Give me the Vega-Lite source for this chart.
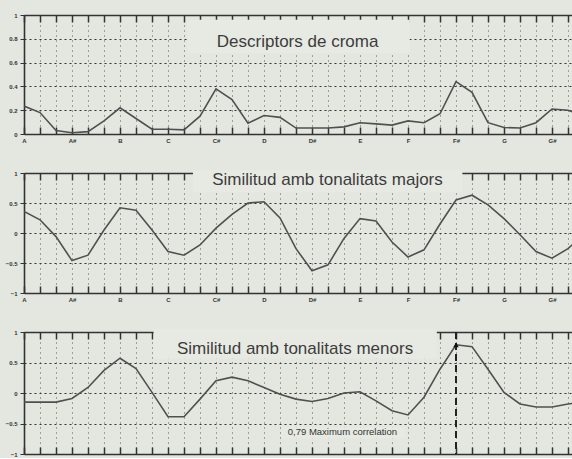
{
  "$schema": "https://vega.github.io/schema/vega-lite/v6.json",
  "background": "#e4e7e0",
  "padding": {"top": 12, "left": 0, "right": 0, "bottom": 0},
  "spacing": 16,
  "config": {
    "view": {"stroke": null},
    "font": "Liberation Sans",
    "axis": {"zindex": 0, "domainColor": "#333", "domainWidth": 1.6, "tickColor": "#333", "labelColor": "#333", "labelFont": "Liberation Sans", "labelFontSize": 6, "labelFontWeight": "bold"}
  },
  "datasets": {
    "one": [{}],
    "croma": [
      {"i":0,"v":0.235},{"i":1,"v":0.18},{"i":2,"v":0.03},{"i":3,"v":0.01},{"i":4,"v":0.02},{"i":5,"v":0.11},
      {"i":6,"v":0.22},{"i":7,"v":0.13},{"i":8,"v":0.04},{"i":9,"v":0.04},{"i":10,"v":0.035},{"i":11,"v":0.15},
      {"i":12,"v":0.38},{"i":13,"v":0.29},{"i":14,"v":0.09},{"i":15,"v":0.155},{"i":16,"v":0.14},{"i":17,"v":0.05},
      {"i":18,"v":0.05},{"i":19,"v":0.05},{"i":20,"v":0.06},{"i":21,"v":0.095},{"i":22,"v":0.085},{"i":23,"v":0.075},
      {"i":24,"v":0.11},{"i":25,"v":0.095},{"i":26,"v":0.17},{"i":27,"v":0.44},{"i":28,"v":0.35},{"i":29,"v":0.095},
      {"i":30,"v":0.055},{"i":31,"v":0.05},{"i":32,"v":0.095},{"i":33,"v":0.21},{"i":34,"v":0.2},{"i":35,"v":0.15}
    ],
    "majors": [
      {"i":0,"v":0.36},{"i":1,"v":0.22},{"i":2,"v":-0.06},{"i":3,"v":-0.46},{"i":4,"v":-0.37},{"i":5,"v":0.05},
      {"i":6,"v":0.42},{"i":7,"v":0.38},{"i":8,"v":0.05},{"i":9,"v":-0.31},{"i":10,"v":-0.37},{"i":11,"v":-0.2},
      {"i":12,"v":0.08},{"i":13,"v":0.31},{"i":14,"v":0.5},{"i":15,"v":0.52},{"i":16,"v":0.25},{"i":17,"v":-0.26},
      {"i":18,"v":-0.63},{"i":19,"v":-0.53},{"i":20,"v":-0.09},{"i":21,"v":0.24},{"i":22,"v":0.2},{"i":23,"v":-0.15},
      {"i":24,"v":-0.4},{"i":25,"v":-0.28},{"i":26,"v":0.15},{"i":27,"v":0.55},{"i":28,"v":0.63},{"i":29,"v":0.47},
      {"i":30,"v":0.24},{"i":31,"v":-0.03},{"i":32,"v":-0.31},{"i":33,"v":-0.42},{"i":34,"v":-0.26},{"i":35,"v":-0.02}
    ],
    "menors": [
      {"i":0,"v":-0.15},{"i":1,"v":-0.15},{"i":2,"v":-0.15},{"i":3,"v":-0.09},{"i":4,"v":0.09},{"i":5,"v":0.37},
      {"i":6,"v":0.57},{"i":7,"v":0.4},{"i":8,"v":0.01},{"i":9,"v":-0.39},{"i":10,"v":-0.39},{"i":11,"v":-0.1},
      {"i":12,"v":0.2},{"i":13,"v":0.26},{"i":14,"v":0.2},{"i":15,"v":0.09},{"i":16,"v":-0.02},{"i":17,"v":-0.1},
      {"i":18,"v":-0.14},{"i":19,"v":-0.09},{"i":20,"v":0.0},{"i":21,"v":0.02},{"i":22,"v":-0.13},{"i":23,"v":-0.29},
      {"i":24,"v":-0.36},{"i":25,"v":-0.07},{"i":26,"v":0.39},{"i":27,"v":0.79},{"i":28,"v":0.76},{"i":29,"v":0.39},
      {"i":30,"v":0.01},{"i":31,"v":-0.18},{"i":32,"v":-0.23},{"i":33,"v":-0.23},{"i":34,"v":-0.18},{"i":35,"v":-0.15}
    ]
  },
  "vconcat": [
    {
      "width": 548, "height": 119,
      "resolve": {"axis": {"x": "independent", "y": "independent"}},
      "layer": [
        {
          "data": {"name": "one"},
          "mark": {"type": "rect", "fill": "#e7e9e3"},
          "encoding": {
            "x": {"datum": 10.2, "type": "quantitative", "scale": {"domain": [0, 34.25], "nice": false, "zero": false},
              "axis": {"orient": "top", "title": null, "values": [0,1,2,3,4,5,6,7,8,9,10,11,12,13,14,15,16,17,18,19,20,21,22,23,24,25,26,27,28,29,30,31,32,33,34], "labels": false, "tickSize": -7, "tickWidth": 1.5, "grid": false, "minExtent": 0, "maxExtent": 0}},
            "x2": {"datum": 24.1},
            "y": {"datum": 0.96, "type": "quantitative", "scale": {"domain": [0, 1], "nice": false, "zero": false},
              "axis": {"orient": "left", "title": null, "values": [0, 0.2, 0.4, 0.6, 0.8, 1], "format": "~g", "tickSize": 4, "labelPadding": 3, "grid": true, "gridColor": "#333", "gridDash": [2, 3], "gridWidth": 1.1, "minExtent": 24, "maxExtent": 24}},
            "y2": {"datum": 0.68}
          }
        },
        {
          "data": {"name": "croma"},
          "mark": {"type": "line", "color": "#505050", "strokeWidth": 1.6, "clip": true},
          "encoding": {
            "x": {"field": "i", "type": "quantitative", "scale": {"domain": [0, 34.25], "nice": false, "zero": false},
              "axis": {"orient": "bottom", "title": null, "values": [0,1,2,3,4,5,6,7,8,9,10,11,12,13,14,15,16,17,18,19,20,21,22,23,24,25,26,27,28,29,30,31,32,33,34], "labelExpr": "datum.value % 3 == 0 ? ['A','A#','B','C','C#','D','D#','E','F','F#','G','G#'][datum.value / 3] : ''", "labelFlush": false, "labelOverlap": false, "labelBound": false, "tickSize": -7, "tickWidth": 1.5, "labelPadding": 10, "grid": true, "gridColor": "#555", "gridDash": [1, 4], "gridWidth": 1, "minExtent": 20, "maxExtent": 20}},
            "y": {"field": "v", "type": "quantitative", "scale": {"domain": [0, 1], "nice": false, "zero": false}, "axis": null}
          }
        },
        {
          "data": {"name": "one"},
          "mark": {"type": "text", "fontSize": 17, "color": "#3c3c3c", "baseline": "alphabetic", "align": "center"},
          "encoding": {
            "x": {"datum": 17.1, "type": "quantitative", "scale": {"domain": [0, 34.25], "nice": false, "zero": false}, "axis": null},
            "y": {"datum": 0.73, "type": "quantitative", "scale": {"domain": [0, 1], "nice": false, "zero": false}, "axis": null},
            "text": {"value": "Descriptors de croma"}
          }
        }
      ]
    },
    {
      "width": 548, "height": 120,
      "resolve": {"axis": {"x": "independent", "y": "independent"}},
      "layer": [
        {
          "data": {"name": "one"},
          "mark": {"type": "rect", "fill": "#e7e9e3"},
          "encoding": {
            "x": {"datum": 10.56, "type": "quantitative", "scale": {"domain": [0, 34.25], "nice": false, "zero": false},
              "axis": {"orient": "top", "title": null, "values": [0,1,2,3,4,5,6,7,8,9,10,11,12,13,14,15,16,17,18,19,20,21,22,23,24,25,26,27,28,29,30,31,32,33,34], "labels": false, "tickSize": -7, "tickWidth": 1.5, "grid": false, "minExtent": 0, "maxExtent": 0}},
            "x2": {"datum": 27.4},
            "y": {"datum": 1.04, "type": "quantitative", "scale": {"domain": [-1, 1], "nice": false, "zero": false},
              "axis": {"orient": "left", "title": null, "values": [-1, -0.5, 0, 0.5, 1], "format": "~g", "tickSize": 4, "labelPadding": 3, "grid": true, "gridColor": "#333", "gridDash": [2, 3], "gridWidth": 1.1, "minExtent": 24, "maxExtent": 24}},
            "y2": {"datum": 0.68}
          }
        },
        {
          "data": {"name": "majors"},
          "mark": {"type": "line", "color": "#505050", "strokeWidth": 1.6, "clip": true},
          "encoding": {
            "x": {"field": "i", "type": "quantitative", "scale": {"domain": [0, 34.25], "nice": false, "zero": false},
              "axis": {"orient": "bottom", "title": null, "values": [0,1,2,3,4,5,6,7,8,9,10,11,12,13,14,15,16,17,18,19,20,21,22,23,24,25,26,27,28,29,30,31,32,33,34], "labelExpr": "datum.value % 3 == 0 ? ['A','A#','B','C','C#','D','D#','E','F','F#','G','G#'][datum.value / 3] : ''", "labelFlush": false, "labelOverlap": false, "labelBound": false, "tickSize": -7, "tickWidth": 1.5, "labelPadding": 10, "grid": true, "gridColor": "#555", "gridDash": [1, 4], "gridWidth": 1, "minExtent": 20, "maxExtent": 20}},
            "y": {"field": "v", "type": "quantitative", "scale": {"domain": [-1, 1], "nice": false, "zero": false}, "axis": null}
          }
        },
        {
          "data": {"name": "one"},
          "mark": {"type": "text", "fontSize": 17, "color": "#3c3c3c", "baseline": "alphabetic", "align": "center"},
          "encoding": {
            "x": {"datum": 18.97, "type": "quantitative", "scale": {"domain": [0, 34.25], "nice": false, "zero": false}, "axis": null},
            "y": {"datum": 0.8, "type": "quantitative", "scale": {"domain": [-1, 1], "nice": false, "zero": false}, "axis": null},
            "text": {"value": "Similitud amb tonalitats majors"}
          }
        }
      ]
    },
    {
      "width": 548, "height": 122,
      "resolve": {"axis": {"x": "independent", "y": "independent"}},
      "layer": [
        {
          "data": {"name": "one"},
          "mark": {"type": "rect", "fill": "#e7e9e3"},
          "encoding": {
            "x": {"datum": 8.1, "type": "quantitative", "scale": {"domain": [0, 34.25], "nice": false, "zero": false},
              "axis": {"orient": "top", "title": null, "values": [0,1,2,3,4,5,6,7,8,9,10,11,12,13,14,15,16,17,18,19,20,21,22,23,24,25,26,27,28,29,30,31,32,33,34], "labels": false, "tickSize": -7, "tickWidth": 1.5, "grid": false, "minExtent": 0, "maxExtent": 0}},
            "x2": {"datum": 25.8},
            "y": {"datum": 1.04, "type": "quantitative", "scale": {"domain": [-1, 1], "nice": false, "zero": false},
              "axis": {"orient": "left", "title": null, "values": [-1, -0.5, 0, 0.5, 1], "format": "~g", "tickSize": 4, "labelPadding": 3, "grid": true, "gridColor": "#333", "gridDash": [2, 3], "gridWidth": 1.1, "minExtent": 24, "maxExtent": 24}},
            "y2": {"datum": 0.56}
          }
        },
        {
          "data": {"name": "one"},
          "mark": {"type": "rect", "fill": "#e7e9e3"},
          "encoding": {
            "x": {"datum": 16.1, "type": "quantitative", "scale": {"domain": [0, 34.25], "nice": false, "zero": false}, "axis": null},
            "x2": {"datum": 23.8},
            "y": {"datum": -0.56, "type": "quantitative", "scale": {"domain": [-1, 1], "nice": false, "zero": false}, "axis": null},
            "y2": {"datum": -0.75}
          }
        },
        {
          "data": {"name": "one"},
          "mark": {"type": "rule", "color": "#222", "strokeWidth": 2, "strokeDash": [7, 4]},
          "encoding": {
            "x": {"datum": 27, "type": "quantitative", "scale": {"domain": [0, 34.25], "nice": false, "zero": false}, "axis": null}
          }
        },
        {
          "data": {"name": "menors"},
          "mark": {"type": "line", "color": "#505050", "strokeWidth": 1.6, "clip": true},
          "encoding": {
            "x": {"field": "i", "type": "quantitative", "scale": {"domain": [0, 34.25], "nice": false, "zero": false},
              "axis": {"orient": "bottom", "title": null, "values": [0,1,2,3,4,5,6,7,8,9,10,11,12,13,14,15,16,17,18,19,20,21,22,23,24,25,26,27,28,29,30,31,32,33,34], "labels": false, "tickSize": -7, "tickWidth": 1.5, "grid": true, "gridColor": "#555", "gridDash": [1, 4], "gridWidth": 1, "minExtent": 4, "maxExtent": 4}},
            "y": {"field": "v", "type": "quantitative", "scale": {"domain": [-1, 1], "nice": false, "zero": false}, "axis": null}
          }
        },
        {
          "data": {"name": "one"},
          "mark": {"type": "point", "shape": "triangle-up", "filled": true, "color": "#111", "size": 30, "opacity": 1},
          "encoding": {
            "x": {"datum": 27, "type": "quantitative", "scale": {"domain": [0, 34.25], "nice": false, "zero": false}, "axis": null},
            "y": {"datum": 0.79, "type": "quantitative", "scale": {"domain": [-1, 1], "nice": false, "zero": false}, "axis": null}
          }
        },
        {
          "data": {"name": "one"},
          "mark": {"type": "text", "fontSize": 17, "color": "#3c3c3c", "baseline": "alphabetic", "align": "center"},
          "encoding": {
            "x": {"datum": 16.94, "type": "quantitative", "scale": {"domain": [0, 34.25], "nice": false, "zero": false}, "axis": null},
            "y": {"datum": 0.64, "type": "quantitative", "scale": {"domain": [-1, 1], "nice": false, "zero": false}, "axis": null},
            "text": {"value": "Similitud amb tonalitats menors"}
          }
        },
        {
          "data": {"name": "one"},
          "mark": {"type": "text", "fontSize": 9.5, "color": "#333", "baseline": "middle", "align": "center"},
          "encoding": {
            "x": {"datum": 19.9, "type": "quantitative", "scale": {"domain": [0, 34.25], "nice": false, "zero": false}, "axis": null},
            "y": {"datum": -0.64, "type": "quantitative", "scale": {"domain": [-1, 1], "nice": false, "zero": false}, "axis": null},
            "text": {"value": "0,79 Maximum correlation"}
          }
        }
      ]
    }
  ]
}
